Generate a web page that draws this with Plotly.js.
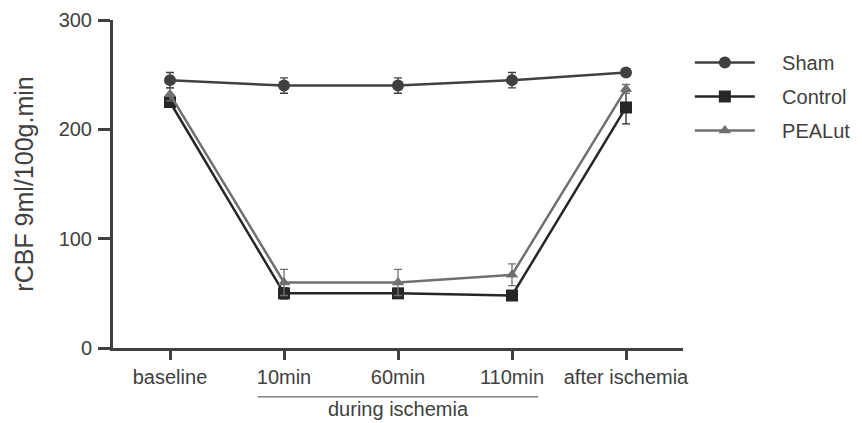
<!DOCTYPE html>
<html><head><meta charset="utf-8">
<script src="https://cdn.plot.ly/plotly-3.0.1.min.js"></script>
<style>body{margin:0;background:#fff}#c{width:862px;height:423px}</style>
</head><body><div id="c"></div>
<script>
const categories = ["baseline","10min","60min","110min","after ischemia"];
const shamY = [245, 240, 240, 245, 252];
const shamErr = [7, 7, 7, 7, 3];
const controlY = [225, 50, 50, 48, 220];
const controlErr = [4, 5, 4, 3, 15];
const pealutY = [232, 60, 60, 67, 237];
const pealutErr = [6, 12, 12, 10, 4];
const seriesNames = ["Sham","Control","PEALut"];
const yTicks = [0,100,200,300];

const pad = '\u00a0\u00a0\u00a0\u00a0';
const x = categories.map((c,i)=>i);
function tr(name, y, err, color, symbol, size, rank){
  return {x:x, y:y, name:pad+name, type:'scatter', mode:'lines+markers',
    legendgroup:'g'+rank, legendrank:rank,
    line:{color:color, width:2.5},
    marker:{symbol:symbol, size:size, color:color},
    error_y:{type:'data', array:err, visible:true, color:color, thickness:1.3, width:4}};
}
const data = [
  tr(seriesNames[1], controlY, controlErr, '#262626', 'square', 12, 2),
  tr(seriesNames[2], pealutY, pealutErr, '#707070', 'triangle-up', 11, 3),
  tr(seriesNames[0], shamY, shamErr, '#404040', 'circle', 12, 1)
];
const layout = {
  width:862, height:423,
  margin:{l:113, r:179, t:20, b:75, autoexpand:false},
  paper_bgcolor:'#fff', plot_bgcolor:'#fff',
  font:{family:'Liberation Sans, Arial, sans-serif', color:'#404040'},
  showlegend:true,
  legend:{x:1.012, y:0.93, xanchor:'left', yanchor:'top', traceorder:'grouped',
    font:{size:20, color:'#404040'}, itemwidth:60, tracegroupgap:5},
  xaxis:{range:[-0.5,4.5], tickvals:x, ticktext:categories, showgrid:false, zeroline:false,
    showline:true, linecolor:'#404040', linewidth:3, ticks:'outside', ticklen:9, tickwidth:3,
    tickcolor:'#404040', tickfont:{size:20, color:'#404040'}},
  yaxis:{range:[0,300], tickvals:yTicks, showgrid:false, zeroline:false,
    showline:true, linecolor:'#404040', linewidth:3, ticks:'outside', ticklen:12, tickwidth:3,
    tickcolor:'#404040', tickfont:{size:20, color:'#404040'}, ticklabelstandoff:2,
    title:{text:'rCBF 9ml/100g.min', font:{size:25, color:'#404040'}, standoff:18}},
  shapes:[{type:'line', xref:'x', yref:'paper', x0:0.77, x1:3.23, y0:-0.149, y1:-0.149,
    line:{color:'#404040', width:1}}],
  annotations:[{xref:'x', yref:'paper', x:2, y:-0.186, yanchor:'middle', showarrow:false,
    text:'during ischemia', font:{size:20, color:'#404040'}}]
};
Plotly.newPlot('c', data, layout, {displayModeBar:false});
</script></body></html>
